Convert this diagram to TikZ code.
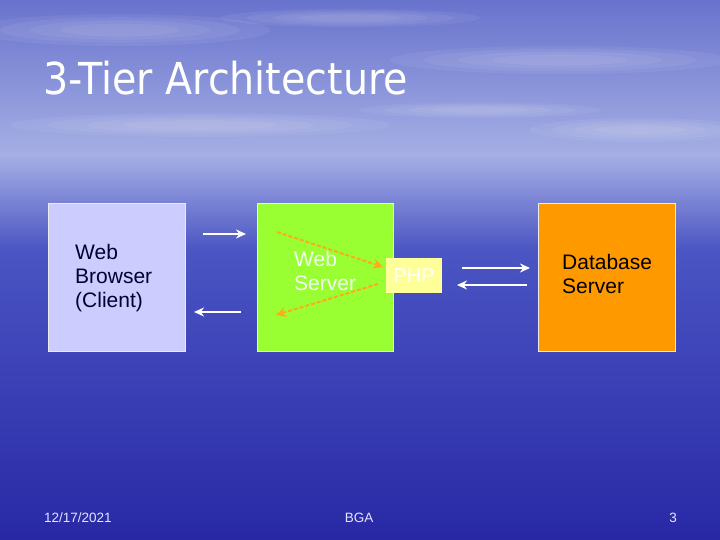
\documentclass[tikz,border=0pt]{standalone}
\usepackage{fontspec}
\setmainfont{Liberation Sans}
\newfontfamily\titlefont{DejaVu Sans Condensed}
\usetikzlibrary{arrows.meta}
\definecolor{skytop}{RGB}{105,115,205}
\definecolor{skymid}{RGB}{165,175,228}
\definecolor{seamid}{RGB}{75,85,195}
\definecolor{seabot}{RGB}{40,40,165}
\definecolor{browserfill}{RGB}{204,204,255}
\definecolor{serverfill}{RGB}{153,255,51}
\definecolor{dbfill}{RGB}{255,153,0}
\definecolor{phpfill}{RGB}{255,255,153}
\definecolor{dasharrow}{RGB}{255,170,30}
\tikzset{
  tierbox/.style={draw=white!85!gray, line width=0.8pt},
  boxtext/.style={font=\fontsize{21}{24}\selectfont, align=left, anchor=west},
  whitearrow/.style={draw=white, line width=1.7pt, -{Stealth[length=10pt,width=9pt]}},
  orangearrow/.style={draw=dasharrow, line width=2pt, dash pattern=on 4pt off 2pt, -{Stealth[length=10pt,width=10pt]}},
  footer/.style={font=\fontsize{13.5}{15}\selectfont, text=white!90!blue}
}
\begin{document}
\begin{tikzpicture}[x=1pt,y=-1pt]
\useasboundingbox (0,0) rectangle (720,540);
% background
\shade[top color=skytop, bottom color=skymid] (0,0) rectangle (720,155);
\shade[top color=skymid, bottom color=seamid] (0,155) rectangle (720,250);
\shade[top color=seamid, bottom color=seabot] (0,250) rectangle (720,540);
% soft clouds
\foreach \cx/\cy/\rx/\ry in {120/30/150/16, 560/60/170/14, 350/18/130/9, 640/130/110/12, 200/125/190/12, 480/110/120/8}{
  \foreach \k in {1,0.8,0.6,0.4}{
    \fill[white, opacity=0.06] (\cx,\cy) ellipse ({\k*\rx pt} and {\k*\ry pt});
  }
}
% title
\node (title) [anchor=base west, inner sep=0pt, text=white, font=\titlefont\fontsize{44}{46}\selectfont] at (43,95) {3-Tier Architecture};
% boxes
\node (browser) [tierbox, fill=browserfill, minimum width=137pt, minimum height=148pt, inner sep=0pt] at (116.5,277) {};
\node (server) [tierbox, fill=serverfill, minimum width=136pt, minimum height=148pt, inner sep=0pt] at (325,277) {};
\node (db) [tierbox, fill=dbfill, minimum width=137pt, minimum height=148pt, inner sep=0pt] at (606.5,277) {};
\node (php) [fill=phpfill, minimum width=56pt, minimum height=35pt, inner sep=0pt, text=white, font=\fontsize{20}{22}\selectfont] at (414,275.5) {PHP};
% box texts
\node (browsertext) [boxtext, text=black!80!blue, inner sep=0pt] at (75,278) {Web\\Browser\\(Client)};
\node (servertext) [boxtext, text=white!95!green, inner sep=0pt] at (294,271) {Web\\Server};
\node (dbtext) [boxtext, text=black, inner sep=0pt] at (562,274) {Database\\Server};
% arrows
\coordinate (a1s) at (203,234); \coordinate (a1e) at (246,234);
\coordinate (a2s) at (241,312); \coordinate (a2e) at (194,312);
\coordinate (a3s) at (462,268); \coordinate (a3e) at (530,268);
\coordinate (a4s) at (527,285); \coordinate (a4e) at (457,285);
\draw[whitearrow] (a1s) -- (a1e);
\draw[whitearrow] (a2s) -- (a2e);
\draw[whitearrow] (a3s) -- (a3e);
\draw[whitearrow] (a4s) -- (a4e);
\coordinate (o1s) at (277,232); \coordinate (o1e) at (383,267);
\coordinate (o2s) at (378,284); \coordinate (o2e) at (276,315);
\draw[orangearrow] (o1s) -- (o1e);
\draw[orangearrow] (o2s) -- (o2e);
% footer
\node (date) [footer, anchor=base west, inner sep=0pt] at (44,522) {12/17/2021};
\node (bga) [footer, anchor=base, inner sep=0pt] at (359,522) {BGA};
\node (page) [footer, anchor=base east, inner sep=0pt] at (677,522) {3};
\end{tikzpicture}
\end{document}
